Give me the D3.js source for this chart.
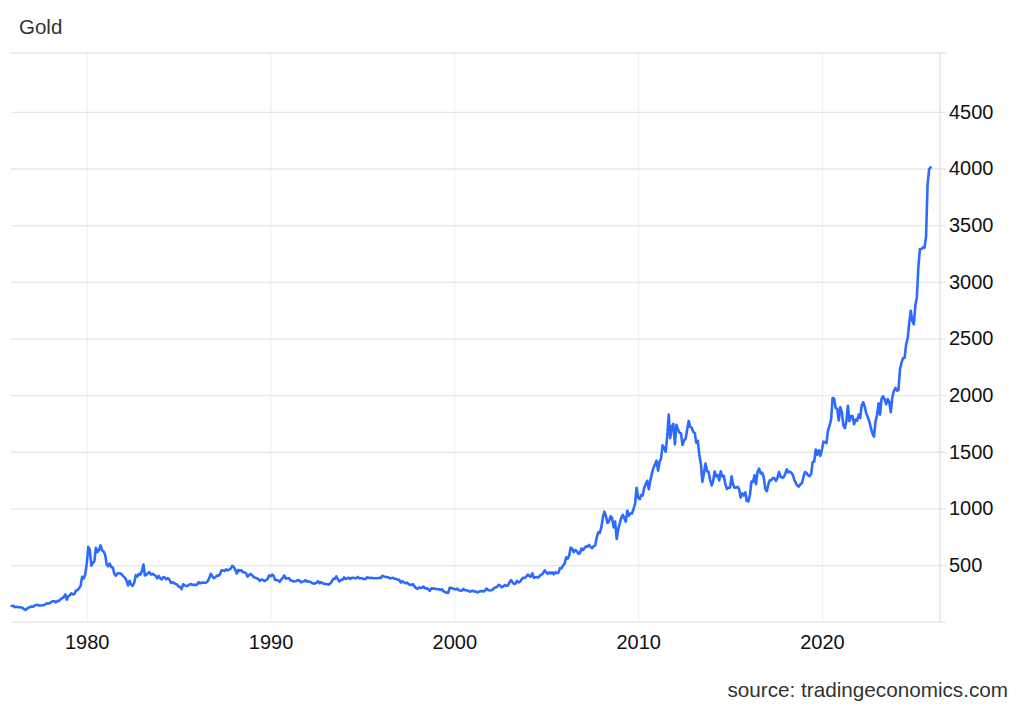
<!DOCTYPE html>
<html><head><meta charset="utf-8">
<script src="https://cdn.jsdelivr.net/npm/d3@7"></script>
<style>
body{margin:0;background:#fff;}
svg{display:block;font-family:"Liberation Sans",Arial,Helvetica,sans-serif;}
</style>
</head><body>
<svg id="chart" width="1024" height="710"></svg>
<script>
// Monthly closing values, first value = Nov 1975 (last value = partial Nov 2025)
const titleText = "Gold";
const sourceText = "source: tradingeconomics.com";
const prices1975 = [139, 140];
const prices1976to1979 = [
128,132,129,128,126,124,112,104,116,123,130,134,
132,142,148,149,143,143,145,146,154,162,160,165,
175,182,181,170,184,183,200,208,217,242,194,226,
233,251,240,245,275,277,296,315,397,382,415,512];
const prices1980s = [
660,637,494,518,535,653,614,631,673,629,620,590,
506,489,513,482,479,426,406,425,428,427,414,400,
387,362,320,361,325,317,342,411,397,423,414,448,
505,408,414,429,437,416,422,414,405,382,405,382,
373,394,388,375,384,373,342,348,341,333,329,309,
306,288,330,321,315,317,327,333,326,325,325,327,
350,338,344,345,343,345,357,384,423,401,384,391,
408,405,419,453,451,447,462,453,459,468,492,484,
458,426,457,449,455,436,437,427,397,412,422,410,
394,387,383,377,361,373,368,359,366,375,408,401];
const prices1990s = [
415,407,368,367,363,352,372,387,408,379,384,386,
366,362,355,357,360,368,362,347,354,358,366,353,
354,353,341,336,337,343,357,340,349,339,334,333,
330,327,337,354,378,378,401,372,355,369,370,391,
377,381,389,377,388,388,384,385,395,383,383,383,
375,376,392,389,385,387,383,383,384,383,387,387,
405,400,396,393,391,382,385,387,379,379,371,369,
345,358,348,340,345,334,326,325,332,311,296,290,
303,297,301,310,293,296,288,273,294,292,294,288,
287,287,280,286,268,262,256,254,299,299,292,290];
const prices2000s = [
284,293,277,275,273,289,277,278,274,265,270,273,
266,267,258,264,268,271,266,273,293,279,275,277,
282,297,302,308,326,318,304,312,324,317,319,347,
368,348,334,337,361,346,354,375,388,386,398,416,
403,397,427,388,393,395,391,408,416,428,453,438,
422,435,427,436,418,437,429,433,473,470,496,513,
569,556,582,654,643,613,633,624,599,604,646,632,
650,665,662,677,659,650,666,673,743,789,783,834,
923,971,933,871,885,930,918,833,884,730,815,869,
919,942,916,883,980,934,954,955,995,1040,1182,1096];
const prices2010s = [
1081,1117,1113,1180,1215,1244,1169,1246,1307,1359,1386,1421,
1333,1410,1439,1556,1536,1500,1628,1828,1620,1722,1746,1565,
1737,1697,1668,1664,1559,1599,1615,1692,1772,1720,1713,1675,
1663,1578,1596,1472,1393,1234,1313,1396,1327,1323,1253,1202,
1244,1326,1283,1296,1246,1327,1282,1287,1211,1171,1182,1183,
1283,1212,1183,1183,1190,1172,1095,1132,1115,1142,1065,1061,
1118,1238,1233,1293,1214,1322,1351,1309,1316,1275,1173,1152,
1211,1249,1249,1268,1268,1242,1269,1322,1280,1271,1275,1303,
1345,1318,1325,1315,1299,1253,1224,1201,1192,1215,1223,1282,
1321,1313,1292,1284,1305,1409,1413,1520,1472,1513,1464,1517];
const prices2020s = [
1589,1585,1577,1687,1730,1781,1975,1968,1886,1879,1776,1895,
1847,1734,1708,1769,1906,1770,1814,1814,1743,1783,1774,1829,
1797,1909,1937,1897,1837,1807,1766,1711,1661,1633,1768,1824,
1928,1827,1969,1990,1963,1919,1965,1940,1849,1983,2036,2063,
2039,2044,2230,2286,2327,2327,2447,2503,2634,2744,2657,2625,
2798,2858,3124,3289,3289,3303,3300,3400,3858,3995,4010];
const yTickValues = [0, 500, 1000, 1500, 2000, 2500, 3000, 3500, 4000, 4500];
const xTickYears = [1980, 1990, 2000, 2010, 2020];

const values = [].concat(prices1975, prices1976to1979, prices1980s, prices1990s, prices2000s, prices2010s, prices2020s);
// each value is a month close, plotted at the first day of the next month (start Nov 1975)
const data = values.map((v, i) => ({date: new Date(1975, 11 + i, 1), value: v}));

const L = 11, R = 940, T = 53, B = 621.7;
const svg = d3.select("#chart");

const x = d3.scaleTime()
  .domain([new Date(1975, 10, 18), new Date(2026, 5, 5)])
  .range([L, R]);
const y = d3.scaleLinear().domain([0, 5000]).range([B, B - 10 * 56.65]);

// vertical grid (x axis)
const xAxis = d3.axisBottom(x)
  .tickValues(xTickYears.map(yr => new Date(yr, 0, 1)))
  .tickFormat(d3.timeFormat("%Y"))
  .tickSize(-(B - T))
  .tickPadding(13);
const gx = svg.append("g").attr("transform", `translate(0,${B})`).call(xAxis);
gx.select(".domain").remove();
gx.selectAll(".tick line").attr("stroke", "#e9f0f5").attr("stroke-width", 1);
gx.selectAll(".tick text").attr("fill", "#111").attr("font-size", "20px")
  .attr("font-family", "'Liberation Sans',Arial,sans-serif");

// horizontal grid (y axis)
const yAxis = d3.axisRight(y)
  .tickValues(yTickValues)
  .tickFormat(d => d === 0 ? "" : d)
  .tickSize(946 - L)
  .tickPadding(3);
const gy = svg.append("g").attr("transform", `translate(${L},0)`).call(yAxis);
gy.select(".domain").remove();
gy.selectAll(".tick line").attr("stroke", "#e6e6e6").attr("stroke-width", 1.3);
gy.selectAll(".tick text").attr("fill", "#111").attr("font-size", "20px")
  .attr("font-family", "'Liberation Sans',Arial,sans-serif");

// frame: top line and right axis line
svg.append("line").attr("x1", L).attr("x2", 946).attr("y1", T).attr("y2", T)
  .attr("stroke", "#e6e6e6").attr("stroke-width", 1.3);
svg.append("line").attr("x1", R).attr("x2", R).attr("y1", T).attr("y2", B)
  .attr("stroke", "#e3e3e3").attr("stroke-width", 1.5);

// line
const line = d3.line().x(d => x(d.date)).y(d => y(d.value));
svg.append("path").datum(data)
  .attr("fill", "none")
  .attr("stroke", "#2d6bff")
  .attr("stroke-width", 2.6)
  .attr("stroke-linejoin", "round")
  .attr("stroke-linecap", "round")
  .attr("d", line);

// title & source
svg.append("text").attr("x", 19).attr("y", 34).attr("fill", "#333")
  .attr("font-size", "20.5px").text(titleText);
svg.append("text").attr("x", 1008).attr("y", 697).attr("text-anchor", "end")
  .attr("fill", "#333").attr("font-size", "20.7px").text(sourceText);
</script>
</body></html>
